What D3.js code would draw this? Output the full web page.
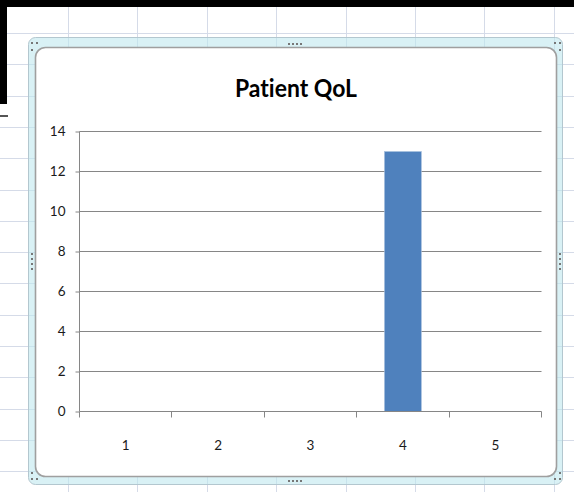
<!DOCTYPE html>
<html>
<head>
<meta charset="utf-8">
<script src="https://cdn.jsdelivr.net/npm/d3@7"></script>
<style>
  html, body { margin: 0; padding: 0; background: #ffffff; }
  svg { display: block; }
  text { font-family: Lato, "Open Sans", "DejaVu Sans", sans-serif; font-variant-ligatures: none; font-feature-settings: "liga" 0, "dlig" 0; }
</style>
</head>
<body>
<svg id="chart" width="574" height="492"></svg>
<script>
// Chart data
const title = "Patient QoL";
const categories = ["1", "2", "3", "4", "5"];
const values = [0, 0, 0, 13, 0];
const yTicks = [0, 2, 4, 6, 8, 10, 12, 14];

const W = 574, H = 492;
const svg = d3.select("#chart");

// ---- worksheet background: cell grid ----
const sheet = svg.append("g");
const colStep = 69.4, rowStep = 31.3;
sheet.selectAll("line.col")
  .data(d3.range(68, W, colStep))
  .join("line")
  .attr("x1", d => Math.round(d) + 0.5).attr("x2", d => Math.round(d) + 0.5)
  .attr("y1", 0).attr("y2", H)
  .attr("stroke", "#d5dbe8").attr("stroke-width", 1);
sheet.selectAll("line.row")
  .data(d3.range(1.7, H, rowStep))
  .join("line")
  .attr("x1", 0).attr("x2", W)
  .attr("y1", d => Math.round(d) + 0.5).attr("y2", d => Math.round(d) + 0.5)
  .attr("stroke", "#d5dbe8").attr("stroke-width", 1);

// window chrome at the top-left
sheet.append("rect").attr("x", 0).attr("y", 0).attr("width", W).attr("height", 7).attr("fill", "#000");
sheet.append("rect").attr("x", 0).attr("y", 0).attr("width", 7).attr("height", 104).attr("fill", "#000");
sheet.append("rect").attr("x", 0).attr("y", 115).attr("width", 8).attr("height", 2).attr("fill", "#555");

// ---- selected chart object frame ----
const frame = svg.append("g");
frame.append("rect")
  .attr("x", 28.5).attr("y", 37.5).attr("width", 534).attr("height", 447).attr("rx", 7)
  .attr("fill", "#bfe8ee").attr("fill-opacity", 0.6)
  .attr("stroke", "#b3c7cf").attr("stroke-width", 1);
frame.append("rect")
  .attr("x", 35.5).attr("y", 47.5).attr("width", 521).attr("height", 429).attr("rx", 10)
  .attr("fill", "#ffffff")
  .attr("stroke", "#9f9f9f").attr("stroke-width", 1.6);

// sizing handles
const dot = (x, y) => frame.append("rect").attr("x", x - 1).attr("y", y - 1)
  .attr("width", 2).attr("height", 2).attr("fill", "#777");
[[32, 43], [37, 43], [32, 50],
 [555, 43], [560, 43], [560, 50],
 [32, 473], [32, 479], [37, 479],
 [560, 473], [555, 479], [560, 479]].forEach(p => dot(p[0], p[1]));
d3.range(4).forEach(i => {
  dot(289 + i * 4, 44);
  dot(289 + i * 4, 481);
  dot(32, 254 + i * 5);
  dot(560, 254 + i * 5);
});

// ---- chart ----
const x = d3.scaleBand().domain(categories).range([79.5, 541.5]).paddingInner(0).paddingOuter(0);
const y = d3.scaleLinear().domain([0, 14]).range([411.5, 131.5]);

svg.append("text")
  .attr("x", 296).attr("y", 97)
  .attr("text-anchor", "middle")
  .attr("font-size", 25).attr("font-weight", "bold")
  .attr("fill", "#000")
  .attr("textLength", 122).attr("lengthAdjust", "spacingAndGlyphs")
  .text(title);

// horizontal gridlines
svg.append("g").selectAll("line")
  .data(yTicks.filter(t => t > 0))
  .join("line")
  .attr("x1", 79.5).attr("x2", 541.5)
  .attr("y1", d => y(d)).attr("y2", d => y(d))
  .attr("stroke", "#868686").attr("stroke-width", 1.1);

// y axis
const yAxis = svg.append("g")
  .attr("transform", "translate(79.5,0)")
  .call(d3.axisLeft(y).tickValues(yTicks).tickSize(4).tickPadding(10));
yAxis.select(".domain").attr("stroke", "#868686").attr("d", `M0,${y(14)}V${y(0)}`);
yAxis.selectAll(".tick line").attr("stroke", "#868686");
yAxis.selectAll(".tick text")
  .attr("font-family", "Lato, 'Open Sans', sans-serif")
  .attr("font-size", 13.5).attr("fill", "#1a1a1a");

// bars
const barW = x.bandwidth() / 2.5;
svg.append("g").selectAll("rect")
  .data(categories.map((c, i) => ({ c, v: values[i] })).filter(d => d.v > 0))
  .join("rect")
  .attr("x", d => x(d.c) + (x.bandwidth() - barW) / 2)
  .attr("y", d => y(d.v))
  .attr("width", barW)
  .attr("height", d => y(0) - y(d.v))
  .attr("fill", "#4f81bd")
  .attr("stroke", "#a9c1de").attr("stroke-width", 0.6);

// x axis: tick marks on category boundaries, labels centered in bands
const xAxis = svg.append("g").attr("transform", `translate(0,${y(0)})`);
xAxis.append("line")
  .attr("x1", 79.5).attr("x2", 541.5).attr("y1", 0).attr("y2", 0)
  .attr("stroke", "#868686").attr("stroke-width", 1.1);
xAxis.selectAll("line.tk")
  .data(categories.map(c => x(c)).concat([x.range()[1]]))
  .join("line")
  .attr("class", "tk")
  .attr("x1", d => Math.round(d - 0.5) + 0.5).attr("x2", d => Math.round(d - 0.5) + 0.5)
  .attr("y1", 0).attr("y2", 6)
  .attr("stroke", "#868686");
xAxis.selectAll("text")
  .data(categories)
  .join("text")
  .attr("x", d => x(d) + x.bandwidth() / 2)
  .attr("y", 450 - y(0))
  .attr("text-anchor", "middle")
  .attr("font-size", 13.5).attr("fill", "#1a1a1a")
  .text(d => d);
</script>
</body>
</html>
